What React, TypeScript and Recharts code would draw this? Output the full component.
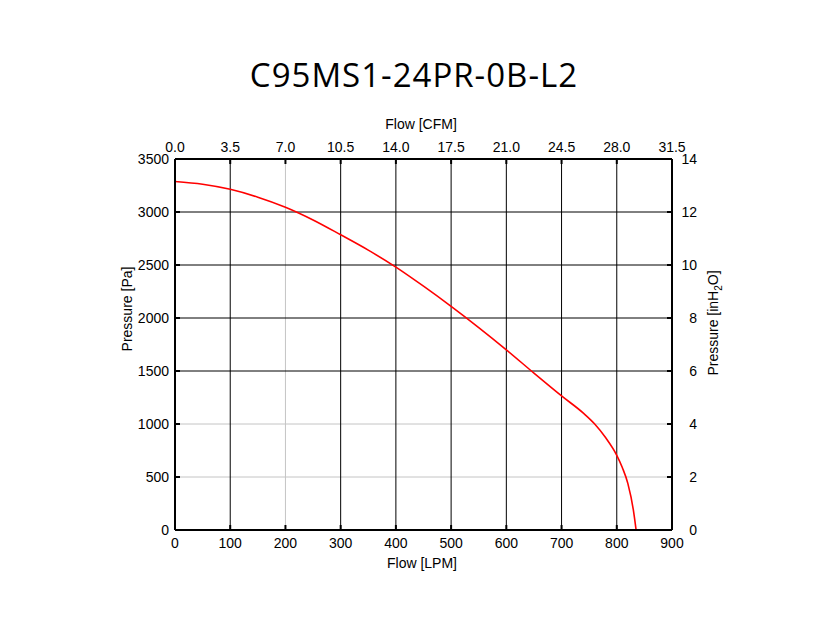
import React from 'react';
import { LineChart, Line, XAxis, YAxis, ReferenceLine } from 'recharts';

const flowLPM = [0, 50, 100, 150, 200, 250, 300, 350, 400, 450, 500, 550, 600, 650, 700, 740, 760, 780, 800, 810, 820, 830, 835];
const pressurePa = [3288, 3262, 3214, 3140, 3045, 2925, 2785, 2640, 2480, 2300, 2110, 1910, 1700, 1480, 1265, 1100, 1000, 870, 705, 590, 440, 190, 0];

const lpmTicks = [0, 100, 200, 300, 400, 500, 600, 700, 800, 900];
const cfmTicks = [0, 3.5, 7, 10.5, 14, 17.5, 21, 24.5, 28, 31.5];
const paTicks = [0, 500, 1000, 1500, 2000, 2500, 3000, 3500];
const inH2OTicks = [0, 2, 4, 6, 8, 10, 12, 14];

const blackGridX = [100, 300, 400, 500, 600, 700, 800];
const grayGridX = [200];
const blackGridY = [1500, 2000, 2500, 3000];
const grayGridY = [500, 1000];

// top axis scale: 900 LPM spans 31.5 on the CFM axis
const cfmPerLpm = 31.5 / 900;

const data = flowLPM.map((f, i) => ({ flow: f, cfm: f * cfmPerLpm, pressure: pressurePa[i] }));

const FONT = '"Liberation Sans", Arial, sans-serif';
const TICK_LEN = 5;

const BottomTick = (props: any) => {
  const { x, y, payload } = props;
  const ay = y - 8;
  return (
    <g>
      <line x1={x} y1={ay} x2={x} y2={ay - TICK_LEN} stroke="#000" strokeWidth={2} />
      <text x={x} y={y} dy="0.71em" textAnchor="middle" fontSize={14} fill="#000" fontFamily={FONT}>
        {payload.value}
      </text>
    </g>
  );
};

const TopTick = (props: any) => {
  const { x, y, payload } = props;
  const ay = y + 7;
  return (
    <g>
      <line x1={x} y1={ay} x2={x} y2={ay + TICK_LEN} stroke="#000" strokeWidth={2} />
      <text x={x} y={y} textAnchor="middle" fontSize={14} fill="#000" fontFamily={FONT}>
        {Number(payload.value).toFixed(1)}
      </text>
    </g>
  );
};

const LeftTick = (props: any) => {
  const { x, y, payload } = props;
  const ax = x + 6;
  return (
    <g>
      <line x1={ax} y1={y} x2={ax + TICK_LEN} y2={y} stroke="#000" strokeWidth={2} />
      <text x={x} y={y} dy="0.355em" textAnchor="end" fontSize={14} fill="#000" fontFamily={FONT}>
        {payload.value}
      </text>
    </g>
  );
};

const RightTick = (props: any) => {
  const { x, y, payload } = props;
  const ax = x - 10;
  return (
    <g>
      <line x1={ax} y1={y} x2={ax - TICK_LEN} y2={y} stroke="#000" strokeWidth={2} />
      <text x={x + 15} y={y} dy="0.355em" textAnchor="end" fontSize={14} fill="#000" fontFamily={FONT}>
        {payload.value}
      </text>
    </g>
  );
};

const labelStyle: React.CSSProperties = {
  position: 'absolute',
  fontFamily: FONT,
  fontSize: 14,
  color: '#000',
  whiteSpace: 'nowrap',
  lineHeight: 1,
};

export default function App() {
  return (
    <div style={{ position: 'absolute', left: 0, top: 0, width: 840, height: 624, background: '#fff' }}>
      <LineChart
        width={840}
        height={624}
        data={data}
        margin={{ top: 129, right: 108, bottom: 64, left: 115 }}
      >
        <XAxis
          xAxisId="bottom"
          dataKey="flow"
          type="number"
          domain={[0, 900]}
          ticks={lpmTicks}
          interval={0}
          orientation="bottom"
          height={30}
          tickSize={0}
          tickMargin={8}
          tick={<BottomTick />}
          axisLine={{ stroke: '#000', strokeWidth: 2 }}
          allowDataOverflow
        />
        <XAxis
          xAxisId="top"
          dataKey="cfm"
          type="number"
          domain={[0, 31.5]}
          ticks={cfmTicks}
          interval={0}
          orientation="top"
          height={30}
          tickSize={0}
          tickMargin={7}
          tick={<TopTick />}
          axisLine={{ stroke: '#000', strokeWidth: 2 }}
          allowDataOverflow
        />
        <YAxis
          yAxisId="left"
          type="number"
          domain={[0, 3500]}
          ticks={paTicks}
          interval={0}
          orientation="left"
          width={60}
          tickSize={0}
          tickMargin={6}
          tick={<LeftTick />}
          axisLine={{ stroke: '#000', strokeWidth: 2 }}
          allowDataOverflow
        />
        <YAxis
          yAxisId="right"
          type="number"
          domain={[0, 14]}
          ticks={inH2OTicks}
          interval={0}
          orientation="right"
          width={60}
          tickSize={0}
          tickMargin={10}
          tick={<RightTick />}
          axisLine={{ stroke: '#000', strokeWidth: 2 }}
          allowDataOverflow
        />
        {grayGridX.map((v) => (
          <ReferenceLine key={'gx' + v} x={v} xAxisId="bottom" yAxisId="left" stroke="#c4c4c4" strokeWidth={1} />
        ))}
        {grayGridY.map((v) => (
          <ReferenceLine key={'gy' + v} y={v} xAxisId="bottom" yAxisId="left" stroke="#c4c4c4" strokeWidth={1} />
        ))}
        {blackGridX.map((v) => (
          <ReferenceLine key={'bx' + v} x={v} xAxisId="bottom" yAxisId="left" stroke="#000" strokeWidth={1} />
        ))}
        {blackGridY.map((v) => (
          <ReferenceLine key={'by' + v} y={v} xAxisId="bottom" yAxisId="left" stroke="#000" strokeWidth={1} />
        ))}
        <Line
          xAxisId="bottom"
          yAxisId="left"
          dataKey="pressure"
          type="monotone"
          stroke="#ff0000"
          strokeWidth={1.6}
          dot={false}
          activeDot={false}
          isAnimationActive={false}
        />
      </LineChart>

      <div
        style={{
          position: 'absolute',
          left: 414,
          top: 74,
          transform: 'translate(-50%, -50%)',
          fontFamily: '"Open Sans", sans-serif',
          fontSize: 33,
          letterSpacing: 1,
          color: '#000',
          whiteSpace: 'nowrap',
          lineHeight: 1,
        }}
      >
        C95MS1-24PR-0B-L2
      </div>
      <div style={{ ...labelStyle, left: 421, top: 124, transform: 'translate(-50%, -50%)' }}>Flow [CFM]</div>
      <div style={{ ...labelStyle, left: 422, top: 563, transform: 'translate(-50%, -50%)' }}>Flow [LPM]</div>
      <div style={{ ...labelStyle, left: 127, top: 309, transform: 'translate(-50%, -50%) rotate(-90deg)' }}>
        Pressure [Pa]
      </div>
      <div style={{ ...labelStyle, left: 713, top: 323, transform: 'translate(-50%, -50%) rotate(-90deg)' }}>
        Pressure [inH<sub style={{ fontSize: 10, verticalAlign: 'sub', lineHeight: 0 }}>2</sub>O]
      </div>
    </div>
  );
}
